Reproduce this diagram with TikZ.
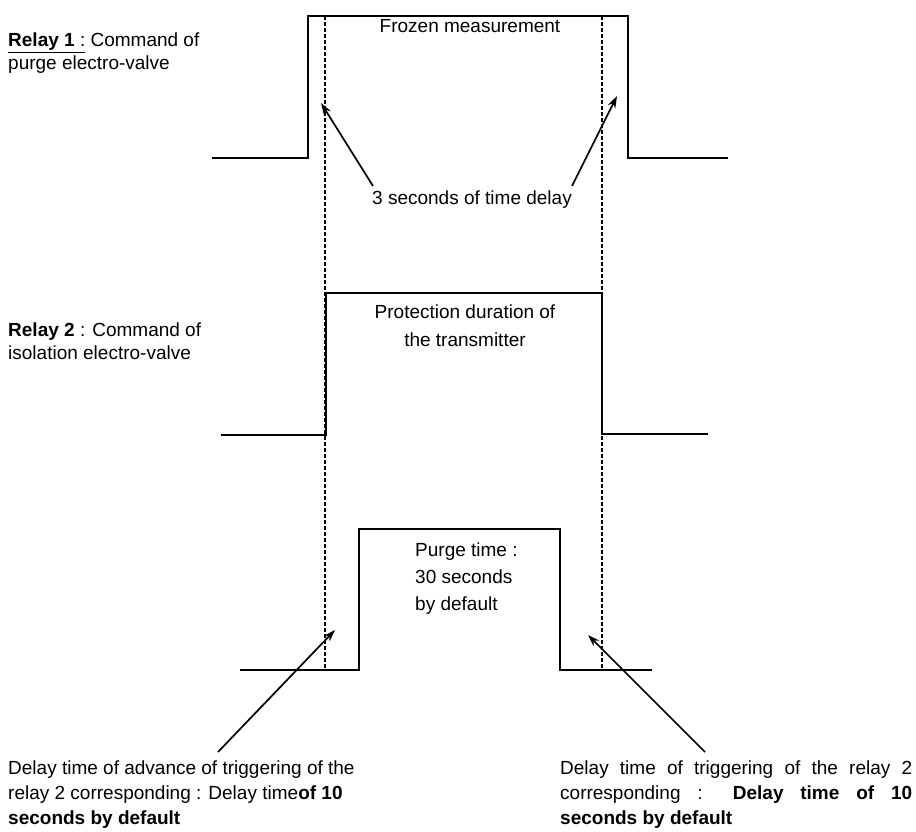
\documentclass[tikz,border=0pt]{standalone}
\usepackage{fontspec}
\setmainfont{Liberation Sans}
\usetikzlibrary{arrows.meta}

\begin{document}
\begin{tikzpicture}[x=1pt, y=-1pt, wave/.style = {line width=2.2pt}, guide/.style = {dash pattern=on 4pt off 2pt, line width=1.8pt}, pointer/.style = {-{Stealth[length=12pt, width=8pt]}, line width=1.7pt}, lbl/.style = {font=\fontsize{19}{23}\selectfont, inner sep=0pt}]
    \useasboundingbox (0,0) rectangle (916,832);
    % relay signals
    \draw[wave] (212,158) -- (308,158) -- (308,16) -- (628,16) -- (628,158) -- (728,158);
    \draw[wave] (221,435) -- (326,435) -- (326,293) -- (602,293) -- (602,434) -- (708,434);
    \draw[wave] (240,670) -- (359,670) -- (359,529) -- (560,529) -- (560,670) -- (652,670);
    \draw[guide] (325,16) -- (325,670);
    \draw[guide] (602,16) -- (602,670);
    % texts
    \node[lbl, anchor=north west, align=left] (r1) at (8,33) {\underline{\textbf{Relay 1} :} Command of\\purge electro-valve};
    \node[lbl, anchor=north west, align=left] (r2) at (8,323) {\textbf{Relay 2} : Command of\\isolation electro-valve};
    \node[lbl, anchor=north] (frozen) at (470,19) {Frozen measurement};
    \node[lbl, anchor=north] (delay3) at (472,191) {3 seconds of time delay};
    \node[lbl, anchor=north, align=center, font=\fontsize{19}{28}\selectfont] (protect) at (465,305) {Protection duration of\\the transmitter};
    \node[lbl, anchor=north west, align=left, font=\fontsize{19}{27}\selectfont] (purge) at (415,543) {Purge time :\\30 seconds\\by default};
    \node[lbl, anchor=north west, align=left, font=\fontsize{19}{25}\selectfont] (advance) at (8,761) {Delay time of advance of triggering of the\\relay 2 corresponding : Delay time\textbf{of 10}\\\textbf{seconds by default}};
    \node[lbl, anchor=north west, align=left, font=\fontsize{19}{25}\selectfont] (trigger) at (560,761) {\makebox[352pt][s]{Delay time of triggering of the relay 2}\\\makebox[352pt][s]{corresponding : \textbf{Delay time of 10}}\\\textbf{seconds by default}};
    % arrows
    \coordinate (t1) at (321,103);
    \coordinate (t2) at (617,96);
    \coordinate (t3) at (335,630);
    \coordinate (t4) at (588,635);
    \draw[pointer] (373,186) -- (t1);
    \draw[pointer] (572,186) -- (t2);
    \draw[pointer] (218,752) -- (t3);
    \draw[pointer] (705,752) -- (t4);
\end{tikzpicture}
\end{document}
